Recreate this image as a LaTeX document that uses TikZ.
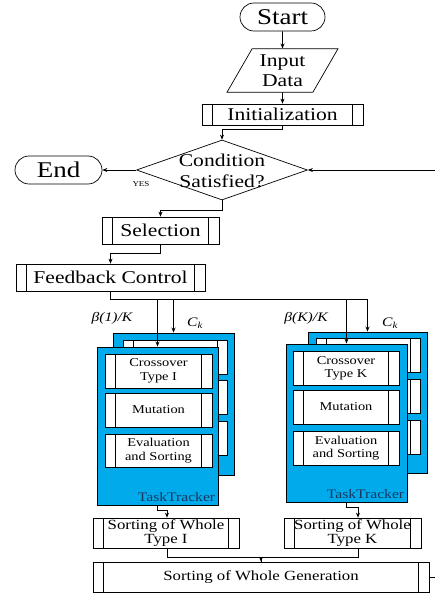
\documentclass[tikz,border=0pt]{standalone}
\usepackage{fontspec}
\setmainfont{Liberation Serif}[FakeStretch=1.2]
\usetikzlibrary{shapes.geometric,arrows.meta}
\definecolor{tblue}{RGB}{0,170,235}
\definecolor{ttxt}{RGB}{25,55,95}
\newcommand{\fsBig}{\fontsize{22.5}{25}\selectfont}
\newcommand{\fsMid}{\fontsize{18}{20.5}\selectfont}
\newcommand{\fsIn}{\fontsize{12}{13.5}\selectfont}
\newcommand{\fsSort}{\fontsize{14}{14.5}\selectfont}
\tikzset{
  proc/.style={draw, rectangle, inner sep=0pt, align=center, fill=white,
    path picture={
      \draw[line width=0.7pt] ([xshift=#1]path picture bounding box.north west) -- ([xshift=#1]path picture bounding box.south west)
        ([xshift=-#1]path picture bounding box.north east) -- ([xshift=-#1]path picture bounding box.south east);}},
  proc/.default=10.5pt,
  term/.style={draw, rectangle, rounded corners=14pt, inner sep=0pt, font=\fsBig},
  ttbox/.style={draw, rectangle, fill=tblue, line width=0.9pt, inner sep=0pt},
  inbox/.style={proc, minimum height=34pt, font=\fsIn},
  ttlabel/.style={anchor=south east, inner sep=3pt, text=ttxt, font=\fontsize{13}{14}\selectfont},
  lbl/.style={inner sep=0pt, font=\fontsize{13}{14}\selectfont\itshape},
}
\begin{document}
\begin{tikzpicture}[x=1pt, y=-1pt, line width=0.7pt, >={Stealth[length=5pt,width=4pt]}]
\useasboundingbox (0,0) rectangle (435,593);

% top flow
\node[term, minimum width=85pt, minimum height=28pt] (start) at (282.5,17) {Start};
\node[draw, trapezium, trapezium left angle=60, trapezium right angle=120,
      minimum width=111pt, minimum height=41pt, inner sep=0pt, align=center, font=\fsMid] (input) at (282.5,70.5) {Input\\Data};
\node[proc, minimum width=161pt, minimum height=21pt, font=\fsMid] (init) at (282.5,114.5) {Initialization};
\node[draw, diamond, minimum width=171pt, minimum height=60pt, inner sep=0pt] (cond) at (222,170) {};
\node[align=center, font=\fsMid, inner sep=0pt] (condtxt) at (222,171) {Condition\\Satisfied?};
\node[term, minimum width=87pt, minimum height=28pt] (end) at (58.5,170) {End};
\node[inner sep=0pt, font=\fontsize{7.5}{9}\selectfont] (yes) at (141,184) {YES};
\node[proc, minimum width=117pt, minimum height=27pt, font=\fsMid] (sel) at (160.5,230.5) {Selection};
\node[proc, minimum width=189pt, minimum height=27pt, font=\fsMid] (fb) at (110.5,277.5) {Feedback Control};

% left task tracker (back)
\node[ttbox, minimum width=121pt, minimum height=142pt] (tb1) at (173.5,404) {};
\node[inbox, proc=10pt, minimum width=104pt] (tb1a) at (175,357) {};
\node[inbox, proc=10pt, minimum width=104pt] (tb1b) at (175,397) {};
\node[inbox, proc=10pt, minimum width=104pt] (tb1c) at (175,438) {};
% left task tracker (front)
\node[ttbox, minimum width=121pt, minimum height=158pt] (tt1) at (157.5,426) {};
\node[inbox, minimum width=107pt] (c1) at (158.5,371) {Crossover\\Type I};
\node[inbox, minimum width=107pt] (m1) at (158.5,410) {Mutation};
\node[inbox, minimum width=107pt, minimum height=33pt] (e1) at (158.5,450.5) {Evaluation\\and Sorting};
\node[ttlabel] (ttl1) at (tt1.south east) {TaskTracker};

% right task tracker (back)
\node[ttbox, minimum width=119pt, minimum height=141pt] (tb2) at (367.5,402.5) {};
\node[inbox, proc=10pt, minimum width=104pt] (tb2a) at (368,355.5) {};
\node[inbox, proc=10pt, minimum width=104pt] (tb2b) at (368,396.5) {};
\node[inbox, proc=10pt, minimum width=104pt] (tb2c) at (368,437.5) {};
% right task tracker (front)
\node[ttbox, minimum width=121pt, minimum height=158pt] (tt2) at (346.5,423) {};
\node[inbox, minimum width=106pt] (c2) at (346,368.5) {Crossover\\Type K};
\node[inbox, minimum width=106pt] (m2) at (346,407) {Mutation};
\node[inbox, minimum width=106pt] (e2) at (346,448) {Evaluation\\and Sorting};
\node[ttlabel] (ttl2) at (tt2.south east) {TaskTracker};

% labels
\node[lbl] (b1) at (112,318) {β(1)/K};
\node[lbl] (ck1) at (195,323) {C\textsubscript{k}};
\node[lbl] (b2) at (306,318) {β(K)/K};
\node[lbl] (ck2) at (390,323) {C\textsubscript{k}};

% sorting
\node[proc, minimum width=146pt, minimum height=30pt, font=\fsSort] (s1) at (166,533) {Sorting of Whole\\Type I};
\node[proc, minimum width=137pt, minimum height=30pt, font=\fsSort] (s2) at (352.5,533) {Sorting of Whole\\Type K};
\node[proc, minimum width=336pt, minimum height=30pt, font=\fsSort] (gen) at (261,577) {Sorting of Whole Generation};

% connectors
\draw[->] (start.south) -- (input.north);
\draw[->] (input.south) -- (init.north);
\draw[->] (init.south) -- ++(0,4.5) -| (cond.north);
\draw[->] (cond.west) -- (end.east);
\coordinate (loopin) at (435,170);
\draw[->] (loopin) -- (cond.east);
\draw[->] (cond.south) -- ++(0,10.5) -| (sel.north);
\draw[->] (sel.south) -- ++(0,8.5) -| (fb.north);
\draw (fb.south) -- (fb.south |- 0,299) -- (tb2.north |- 0,299);
\draw[->] (tb1.north |- 0,299) -- (tb1.north);
\draw[->] (tt1.north |- 0,299) -- (tt1.north);
\draw[->] (tb2.north |- 0,299) -- (tb2.north);
\draw[->] (tt2.north |- 0,299) -- (tt2.north);
\draw[->] (tt1.south) -- ++(0,5) -| ([xshift=1pt]s1.north);
\draw[->] (tt2.south) -- ++(0,5) -| ([xshift=5.5pt]s2.north);
\draw[->] ([xshift=1pt]s1.south) -- ++(0,9) -| (gen.north);
\draw ([xshift=5.5pt]s2.south) -- ++(0,9) -| (gen.north);
\coordinate (loopout) at (435,577);
\draw (gen.east) -- (loopout);
\end{tikzpicture}
\end{document}
